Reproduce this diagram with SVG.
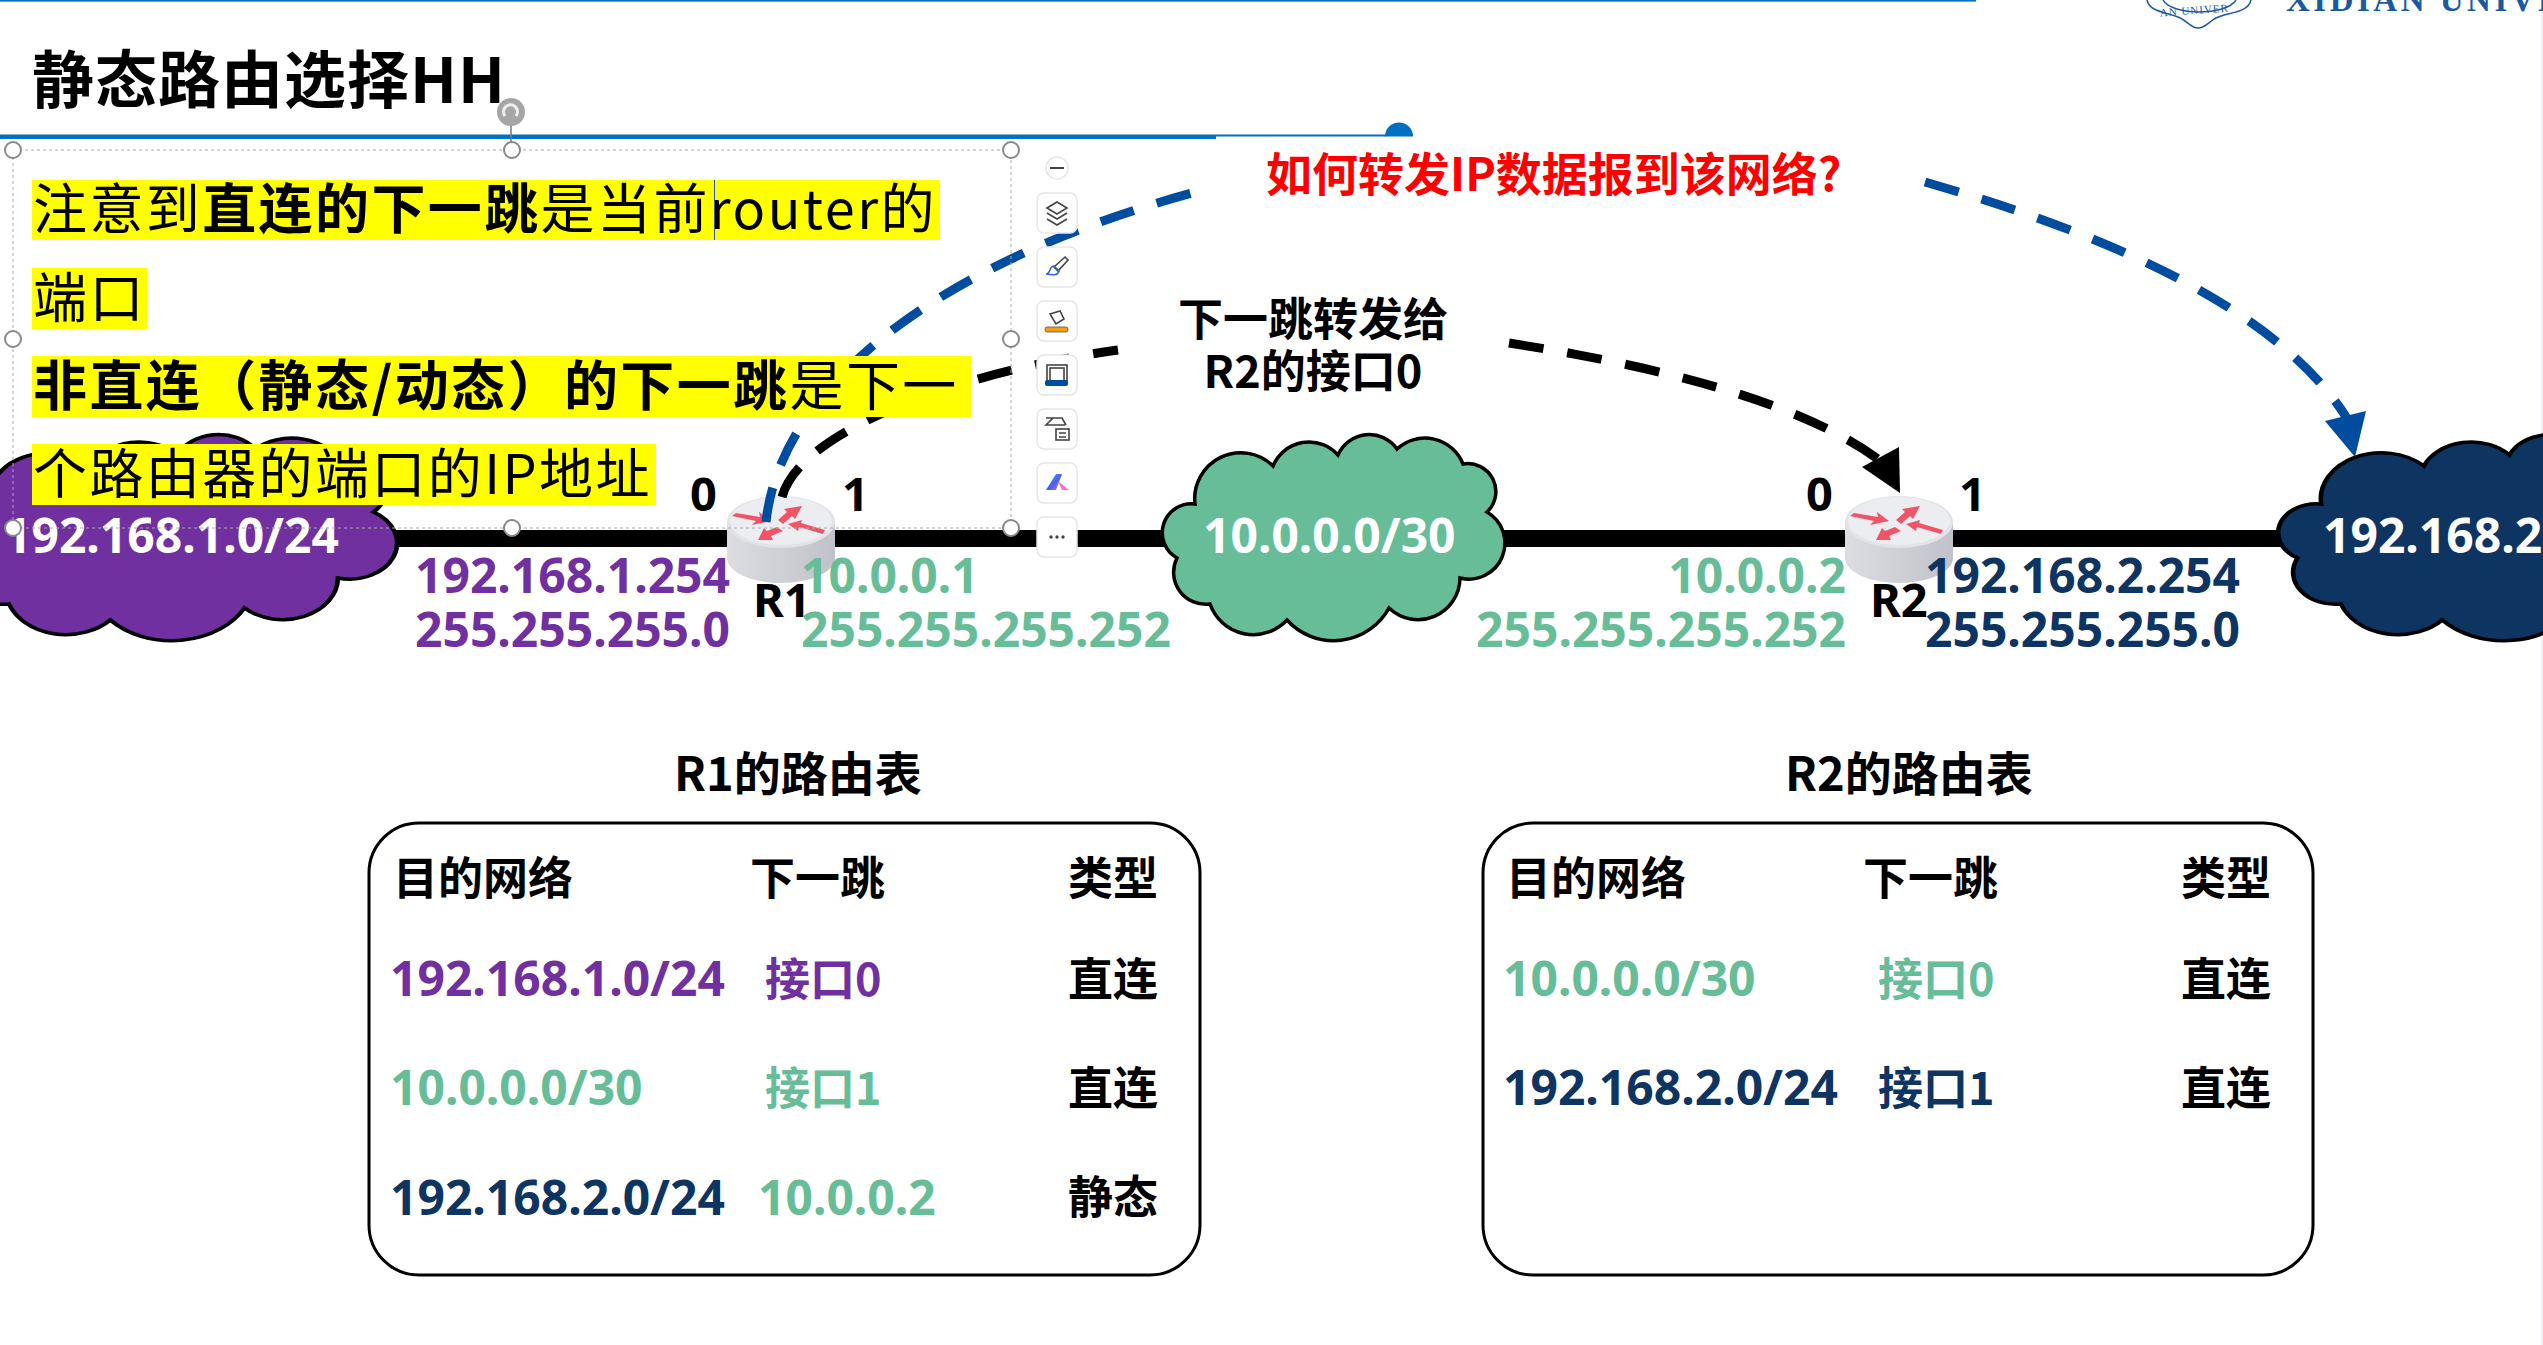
<svg xmlns="http://www.w3.org/2000/svg" width="2543" height="1345" viewBox="0 0 2543 1345">
<style>
text{font-family:"Noto Sans","Noto Sans CJK SC",sans-serif}
.cjk{font-family:"Noto Sans CJK SC","Noto Sans",sans-serif}
.b{font-weight:700}
.lab{font-weight:700;font-size:48px}
.h{font-weight:700;font-size:45px;font-family:"Noto Sans CJK SC","Noto Sans",sans-serif}
.t{font-weight:700;font-size:47px}
.pu{fill:#7030a0}.gr{fill:#66bd98}.na{fill:#0e3462}.wh{fill:#fff}.bk{fill:#000}
.body{font-family:"Noto Sans CJK SC","Noto Sans",sans-serif;font-size:54px;letter-spacing:2.4px;fill:#000}
.btn{fill:#fff;stroke:#e6e6ea;stroke-width:1.5}
.ic{fill:none;stroke:#444;stroke-width:1.6}
.hd{fill:#fff;stroke:#888;stroke-width:2}
.cl{stroke:#000;stroke-width:3.5;vector-effect:non-scaling-stroke}
.dk{fill:none;stroke:#000;stroke-width:9;stroke-dasharray:35 24}
.dbl{fill:none;stroke:#004c9e;stroke-width:9;stroke-dasharray:35 24}
.tbl{fill:#fff;stroke:#000;stroke-width:3}
</style>
<defs>
<path id="cloud" d="M45,79A46,46 0 0 1 123,41A39,39 0 0 1 188,30A34,34 0 0 1 247,24A41,41 0 0 1 313,39A28,28 0 0 1 337,87A36,36 0 0 1 310,153A42,42 0 0 1 239,183A63,63 0 0 1 137,195A46,46 0 0 1 60,179A32,32 0 0 1 27,133A29,29 0 0 1 45,79Z"/>
<linearGradient id="rb" x1="0" x2="1" y1="0" y2="0"><stop offset="0" stop-color="#dcdde1"/><stop offset=".5" stop-color="#cfd0d6"/><stop offset="1" stop-color="#c0c2c9"/></linearGradient>
<g id="rt">
<path d="M-54,0V36A54,25 0 0 0 54,36V0Z" fill="url(#rb)"/>
<ellipse cx="0" cy="0" rx="54" ry="26" fill="#e2e3e8"/>
<ellipse cx="0" cy="-1" rx="51" ry="24" fill="#ecedf1"/>
<g fill="#ef5566">
<path d="M-49,-6L-45,-9L-21,-5L-22,-10L-10,-1L-29,3L-25,-1Z"/>
<path d="M-3,-2L6,-10L3,-13L21,-16L14,-3L11,-6L2,2Z"/>
<path d="M44,8L42,12L18,5L17,9L7,2L21,-2L20,1Z"/>
<path d="M-4,5L2,9L-10,14L-8,18L-23,18L-17,6L-14,9Z"/>
</g>
</g>
<linearGradient id="ka" x1="0" x2="1" y1="0" y2="1"><stop offset="0" stop-color="#38bdf8"/><stop offset=".55" stop-color="#4a5cf0"/><stop offset="1" stop-color="#f472d0"/></linearGradient>
</defs>
<rect width="2543" height="1345" fill="#fff"/>
<rect x="2541" width="2" height="1345" fill="#eef0f5"/>
<g id="frame">
<rect x="0" y="0" width="1976" height="1.6" fill="#0070c0"/>
<rect x="0" y="134.5" width="1216" height="4.5" fill="#0070c0"/>
<rect x="1216" y="134.5" width="170" height="2" fill="#0070c0"/>
<path d="M1385,136.500A14,14 0 0 1 1413,136.500Z" fill="#0070c0"/>
</g>
<g id="logo" fill="none" stroke="#1b5a9c" stroke-width="1.5">
<path d="M2147,0C2150,14 2172,12 2182,19C2190,24 2192,28 2198,28C2204,28 2207,24 2214,19C2225,12 2248,14 2251,0"/>
<path id="seal" d="M2163,0C2172,16 2226,16 2236,0"/>
<text x="2160" y="14" font-size="11" stroke="none" fill="#1b5a9c" font-family="Liberation Serif,serif" transform="rotate(-4 2195 14)" style="font-family:'Liberation Serif',serif" letter-spacing="1">AN UNIVER</text>
<text x="2286" y="11" font-size="33" font-weight="700" stroke="none" fill="#1b5a9c" letter-spacing="3.5" style="font-family:'Liberation Serif',serif">XIDIAN UNIVE</text>
</g>
<g id="title"><text x="32" y="103" class="cjk b" font-size="62" letter-spacing="1">静态路由选择HH</text></g>
<g id="connectors-line"><rect x="370" y="530" width="1930" height="17" fill="#000"/></g>
<g id="net-purple"><use href="#cloud" class="cl pu" transform="translate(-70 425) scale(1.316 1)"/><text x="4" y="553" class="lab wh">192.168.1.0/24</text></g>
<g id="net-green"><use href="#cloud" class="cl gr" transform="translate(1150 425)"/><text x="1203" y="553" class="lab wh">10.0.0.0/30</text></g>
<g id="net-navy"><use href="#cloud" class="cl na" transform="translate(2262 425) scale(1.316 1)"/><text x="2323" y="553" class="lab wh">192.168.2.0/24</text></g>
<g id="R1"><use href="#rt" x="781" y="522"/><text x="753" y="617" class="t">R1</text><text x="690" y="511" class="t">0</text><text x="842" y="511" class="t">1</text></g>
<g id="R2"><use href="#rt" x="1899" y="522"/><text x="1870" y="617" class="t">R2</text><text x="1806" y="511" class="t">0</text><text x="1959" y="511" class="t">1</text></g>
<g id="addr">
<text x="730" y="593" text-anchor="end" class="lab pu">192.168.1.254</text>
<text x="730" y="647" text-anchor="end" class="lab pu">255.255.255.0</text>
<text x="801" y="593" class="lab gr">10.0.0.1</text>
<text x="801" y="647" class="lab gr">255.255.255.252</text>
<text x="1846" y="593" text-anchor="end" class="lab gr">10.0.0.2</text>
<text x="1846" y="647" text-anchor="end" class="lab gr">255.255.255.252</text>
<text x="1925" y="593" class="lab na">192.168.2.254</text>
<text x="1925" y="647" class="lab na">255.255.255.0</text>
</g>
<g id="connectors">
<path class="dk" d="M782,497C800,430 960,372 1118,350"/>
<path class="dk" d="M1509,343C1650,365 1800,400 1882,462"/>
<polygon points="1899,447 1862,467 1900,493" fill="#000"/>
<path class="dbl" d="M766,522C780,390 930,265 1192,193"/>
<path class="dbl" d="M1925,182C2110,235 2280,310 2348,420"/>
<polygon points="2366,411 2325,421 2355,457" fill="#004c9e"/>
</g>
<g id="labels">
<text x="1266" y="191" font-size="46" class="cjk b" fill="#f00">如何转发IP数据报到该网络?</text>
<text x="1313" y="336" font-size="45" class="cjk b" text-anchor="middle">下一跳转发给</text>
<text x="1313" y="388" font-size="45" class="cjk b" text-anchor="middle">R2的接口0</text>
</g>
<g id="textbox">
<rect x="32" y="180" width="908" height="60" fill="#ff0"/>
<rect x="32" y="268" width="115" height="61" fill="#ff0"/>
<rect x="32" y="356" width="939" height="61" fill="#ff0"/>
<rect x="32" y="444" width="624" height="61" fill="#ff0"/>
<text x="33" y="229" class="body">注意到<tspan class="b">直连的下一跳</tspan>是当前router的</text>
<text x="33" y="318" class="body">端口</text>
<text x="33" y="406" class="body"><tspan class="b">非直连（静态/动态）的下一跳</tspan>是下一</text>
<text x="33" y="494" class="body">个路由器的端口的IP地址</text>
<rect x="714" y="180" width="1" height="60" fill="#3355cc"/>
</g>
<g id="selection">
<rect x="13" y="150" width="998" height="378" fill="none" stroke="#aaa" stroke-width="1" stroke-dasharray="3 3"/>
<line x1="511" y1="120" x2="511" y2="145" stroke="#777" stroke-width="1.5"/>
<circle cx="511" cy="112" r="14" fill="#a6a6a6"/>
<path d="M505,116A7,7 0 1 1 516,116" fill="none" stroke="#eee" stroke-width="3"/>
<circle class="hd" cx="13" cy="150" r="8"/><circle class="hd" cx="512" cy="150" r="8"/><circle class="hd" cx="1011" cy="150" r="8"/>
<circle class="hd" cx="13" cy="339" r="8"/><circle class="hd" cx="1011" cy="339" r="8"/>
<circle class="hd" cx="13" cy="528" r="8"/><circle class="hd" cx="512" cy="528" r="8"/><circle class="hd" cx="1011" cy="528" r="8"/>
</g>
<g id="toolbar">
<circle cx="1057" cy="168" r="11" class="btn"/><rect x="1050" y="167" width="14" height="2" fill="#444"/>
<rect class="btn" x="1037" y="193" width="40" height="40" rx="7"/>
<path class="ic" d="M1047,208L1057,202L1067,208L1057,214Z"/><path class="ic" d="M1047,213L1057,219L1067,213" stroke="#3a62e0"/><path class="ic" d="M1047,219L1057,225L1067,219"/>
<rect class="btn" x="1037" y="247" width="40" height="40" rx="7"/>
<path class="ic" d="M1054,267L1065,257L1068,260L1058,271Z"/><path class="ic" style="stroke:#3a62e0" d="M1046,274C1051,274 1049,266 1054,266L1059,271C1058,276 1052,275 1046,274Z"/>
<rect class="btn" x="1037" y="301" width="40" height="40" rx="7"/>
<path class="ic" d="M1050,314L1060,311L1064,319L1056,324Z"/><rect x="1045" y="327" width="23" height="5" rx="2" fill="#f59e0b" stroke="#555" stroke-width=".8"/>
<rect class="btn" x="1037" y="355" width="40" height="40" rx="7"/>
<rect class="ic" x="1047" y="365" width="20" height="16"/><rect class="ic" x="1050" y="368" width="14" height="13"/><rect x="1045" y="380" width="23" height="6" rx="2" fill="#004c9e"/>
<rect class="btn" x="1037" y="409" width="40" height="40" rx="7"/>
<path class="ic" d="M1065,425H1058L1046,425L1053,418L1046,418H1062L1066,425"/><rect class="ic" x="1056" y="429" width="13" height="11"/><path class="ic" d="M1059,433H1066M1059,437H1066"/>
<rect class="btn" x="1037" y="463" width="40" height="40" rx="7"/>
<path d="M1046,490L1056,474H1062L1056,490Z" fill="url(#ka)"/><path d="M1058,481L1069,490H1062Z" fill="#f472d0"/>
<rect class="btn" x="1037" y="517" width="40" height="40" rx="7"/>
<circle cx="1051" cy="537" r="1.700" fill="#444"/><circle cx="1057" cy="537" r="1.700" fill="#444"/><circle cx="1063" cy="537" r="1.700" fill="#444"/>
</g>
<g id="tableR1">
<text x="674" y="791" class="cjk b" font-size="47">R1的路由表</text>
<rect class="tbl" x="369" y="823" width="831" height="452" rx="50"/>
<text x="393" y="895" class="h">目的网络</text><text x="750" y="895" class="h">下一跳</text><text x="1068" y="895" class="h">类型</text>
<text x="390" y="996" class="lab pu">192.168.1.0/24</text><text x="765" y="996" class="h pu">接口0</text><text x="1068" y="996" class="h">直连</text>
<text x="390" y="1105" class="lab gr">10.0.0.0/30</text><text x="765" y="1105" class="h gr">接口1</text><text x="1068" y="1105" class="h">直连</text>
<text x="390" y="1215" class="lab na">192.168.2.0/24</text><text x="758" y="1215" class="lab gr">10.0.0.2</text><text x="1068" y="1214" class="h">静态</text>
</g>
<g id="tableR2">
<text x="1785" y="791" class="cjk b" font-size="47">R2的路由表</text>
<rect class="tbl" x="1483" y="823" width="830" height="452" rx="50"/>
<text x="1506" y="895" class="h">目的网络</text><text x="1863" y="895" class="h">下一跳</text><text x="2181" y="895" class="h">类型</text>
<text x="1503" y="996" class="lab gr">10.0.0.0/30</text><text x="1878" y="996" class="h gr">接口0</text><text x="2181" y="996" class="h">直连</text>
<text x="1503" y="1105" class="lab na">192.168.2.0/24</text><text x="1878" y="1105" class="h na">接口1</text><text x="2181" y="1105" class="h">直连</text>
</g>
</svg>
